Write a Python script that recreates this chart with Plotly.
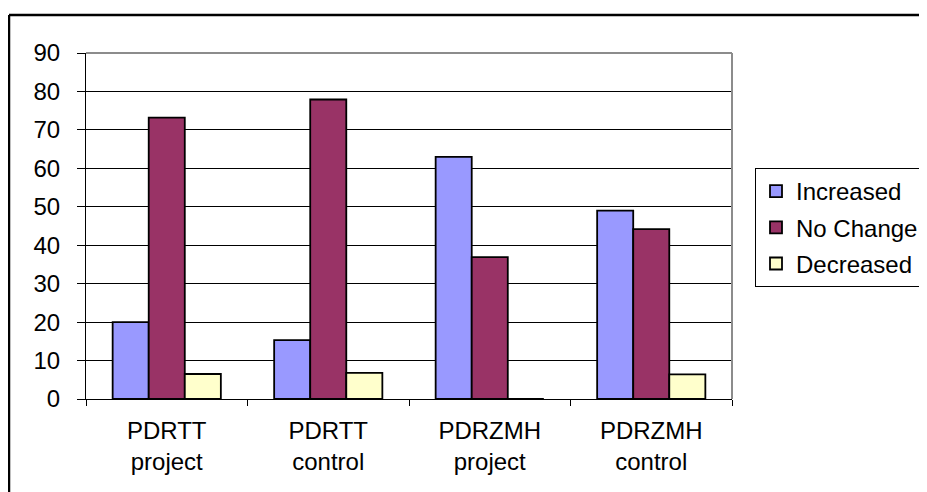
import plotly.graph_objects as go

categories = ["PDRTT<br>project", "PDRTT<br>control", "PDRZMH<br>project", "PDRZMH<br>control"]
increased = [20, 15.3, 63, 49]
no_change = [73.2, 77.9, 36.9, 44.2]
decreased = [6.5, 6.8, 0, 6.4]
y_ticks = [0, 10, 20, 30, 40, 50, 60, 70, 80, 90]

FONT = "Liberation Sans, Arial, sans-serif"

# page has an 8px body margin; figure coordinates are page coordinates minus 8
OFF = 8
PL, PR, PT, PB = 86 - OFF, 732 - OFF, 53 - OFF, 399 - OFF
W, H = 927 - OFF, 492 - OFF
PW, PH = PR - PL, PB - PT


def px(x):
    return (x - OFF - PL) / PW


def py(y):
    return (PB - (y - OFF)) / PH


fig = go.Figure()
series = [
    ("Increased", increased, "#9999FF"),
    ("No Change", no_change, "#993366"),
    ("Decreased", decreased, "#FFFFCC"),
]
for name, vals, col in series:
    fig.add_trace(go.Bar(
        x=categories, y=vals, name=name, legendgroup=name,
        marker=dict(color=col, line=dict(color="black", width=1.8)),
    ))

fig.update_layout(
    width=W, height=H,
    margin=dict(l=PL, r=W - PR, t=PT, b=H - PB, autoexpand=False),
    paper_bgcolor="white", plot_bgcolor="white",
    barmode="group", bargap=0.33, bargroupgap=0,
    font=dict(family=FONT, size=24, color="black"),
    legend=dict(
        x=px(755), xanchor="left",
        y=py(168), yanchor="top",
        bordercolor="black", borderwidth=1,
        font=dict(family=FONT, size=24, color="black"),
        tracegroupgap=2,
    ),
    xaxis=dict(
        showline=True, linecolor="black", linewidth=1,
        ticks="outside", ticklen=6, tickcolor="black",
        tickson="boundaries", showgrid=False,
        ticklabelstandoff=10,
    ),
    yaxis=dict(
        range=[0, 90], tickvals=y_ticks,
        showline=True, linecolor="black", linewidth=1,
        ticks="outside", ticklen=8, tickcolor="black",
        showgrid=True, gridcolor="black", gridwidth=1,
        zeroline=False, ticklabelstandoff=12,
    ),
    shapes=[
        # outer chart border (top and left visible)
        dict(type="line", xref="paper", yref="paper",
             x0=px(9), x1=px(940), y0=py(15), y1=py(15),
             line=dict(color="black", width=2.5)),
        dict(type="line", xref="paper", yref="paper",
             x0=px(9), x1=px(9), y0=py(15), y1=py(500),
             line=dict(color="black", width=2.5)),
        # plot area border (top and right, gray)
        dict(type="line", xref="paper", yref="paper",
             x0=0, x1=1, y0=1, y1=1,
             line=dict(color="#8c8c8c", width=2)),
        dict(type="line", xref="paper", yref="paper",
             x0=1, x1=1, y0=0, y1=1,
             line=dict(color="#8c8c8c", width=2)),
    ],
)

fig.write_html("out.html")
